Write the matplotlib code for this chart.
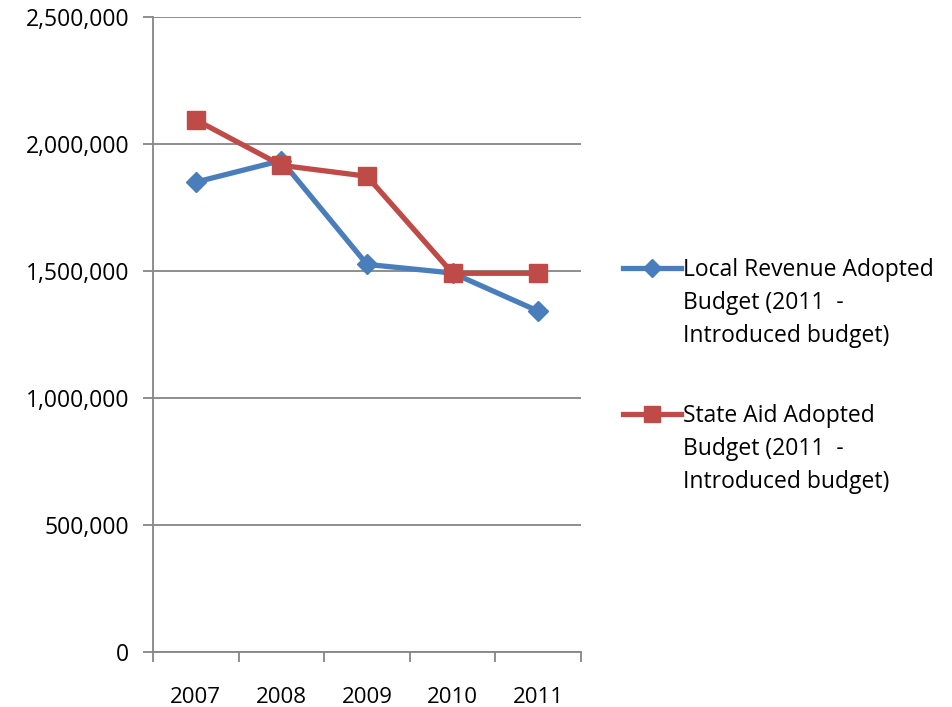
import matplotlib.pyplot as plt
from matplotlib.lines import Line2D
from matplotlib.ticker import FuncFormatter, FixedLocator

years = ["2007", "2008", "2009", "2010", "2011"]
local_revenue = [1850000, 1935000, 1526000, 1492000, 1342000]
state_aid = [2095000, 1916000, 1873000, 1491000, 1491000]
series_labels = [
    "Local Revenue Adopted\nBudget (2011  -\nIntroduced budget)",
    "State Aid Adopted\nBudget (2011  -\nIntroduced budget)",
]
series_colors = ['#4A7EBB', '#BE4B48']
series_markers = [('D', 10), ('s', 13)]

plt.rcParams['font.family'] = ['Open Sans', 'DejaVu Sans']

W, H = 953, 707
fig = plt.figure(figsize=(W / 100, H / 100), dpi=100)
ax = fig.add_axes([153 / W, 1 - 652 / H, 428 / W, 635 / H])

x = list(range(len(years)))
for vals, col, (mk, ms) in zip([local_revenue, state_aid], series_colors, series_markers):
    ax.plot(x, vals, color=col, lw=3.8, marker=mk, markersize=ms, zorder=3)

ax.set_xlim(-0.5, len(years) - 0.5)
ax.set_ylim(0, 2500000)
ax.set_yticks(range(0, 2500001, 500000))
ax.yaxis.set_major_formatter(FuncFormatter(lambda v, p: f"{int(v):,}"))
ax.yaxis.grid(True, color='#868686', lw=1.3)
ax.set_axisbelow(True)

# category labels centred, tick marks on the boundaries
ax.set_xticks(x)
ax.set_xticklabels(years)
ax.xaxis.set_minor_locator(FixedLocator([i - 0.5 for i in range(len(years) + 1)]))
ax.tick_params(axis='x', which='major', length=0, pad=25, labelsize=16)
ax.tick_params(axis='x', which='minor', length=7, color='#868686', width=1.3)
ax.tick_params(axis='y', length=7, color='#868686', width=1.3, labelsize=16.5, pad=10)

for side in ['top', 'right']:
    ax.spines[side].set_visible(False)
for side in ['left', 'bottom']:
    ax.spines[side].set_color('#868686')
    ax.spines[side].set_linewidth(1.3)

# legend, handle level with the first text line
for label, col, (mk, ms), y0 in zip(series_labels, series_colors, series_markers, [268, 414]):
    yf = 1 - y0 / H
    fig.add_artist(Line2D([623 / W, 681 / W], [yf, yf], color=col, lw=3.8))
    fig.add_artist(Line2D([652 / W], [yf], color=col, marker=mk, markersize=ms * 0.9))
    fig.text(683 / W, yf + 10 / H, label, fontsize=16.5, va='top', ha='left',
             linespacing=1.5)

fig.savefig('out.png', dpi=100)
